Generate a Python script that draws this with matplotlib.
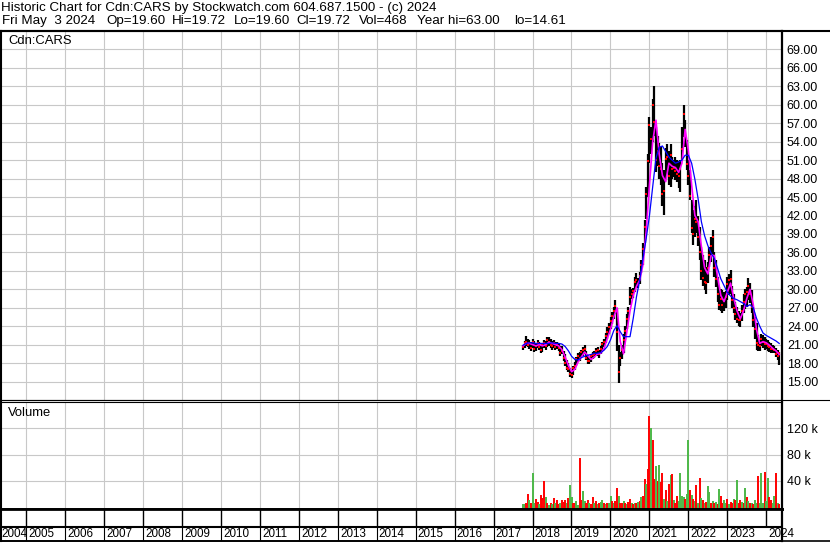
import numpy as np
import matplotlib.pyplot as plt
from matplotlib import transforms as mtransforms
from matplotlib.lines import Line2D

plt.rcParams['font.family'] = ['Liberation Sans', 'DejaVu Sans']
plt.rcParams['font.size'] = 9

W, H = 830, 543

title_line = 'Historic Chart for Cdn:CARS by Stockwatch.com 604.687.1500 - (c) 2024'
# quote line fields and their left edge in pixels
quote_fields = ['Fri May  3 2024', 'Op=19.60', 'Hi=19.72', 'Lo=19.60',
                'Cl=19.72', 'Vol=468', 'Year hi=63.00', 'lo=14.61']
quote_x = [2, 106, 172, 234, 296, 359, 417, 514]
symbol = 'Cdn:CARS'

# semi-monthly bars, first one in mid Sept 2017
start_year = 2017.755

price_hi = [
    21.0, 21.6, 22.4, 22.0, 21.8, 21.5, 21.9, 21.6, 21.2, 21.7,
    21.5, 21.0, 21.3, 21.8, 21.6, 22.2, 22.3, 21.9, 21.6, 21.8,
    21.4, 21.5, 21.2, 20.8,
    20.8, 20.0, 19.5, 18.5, 18.0, 17.2, 16.8, 17.5, 18.2, 19.0,
    19.6, 19.8, 20.2, 20.6, 20.9, 20.0, 19.3, 18.9, 19.5, 19.8,
    20.0, 20.4, 20.6, 20.2, 20.8, 21.5, 22.0, 22.9, 23.8, 24.6,
    25.5, 26.3, 27.2, 28.2, 27.0,
    21.0, 19.8, 21.0, 22.8, 24.0, 26.0, 27.2, 30.4, 30.0, 30.2,
    32.0, 32.6, 31.8, 32.8, 34.8, 37.5, 41.3, 46.7, 52.0, 58.0,
    56.4, 61.0, 63.1, 56.4, 55.0, 53.8, 53.2, 50.5, 49.4, 53.0,
    53.7, 52.5, 53.7, 51.5, 51.0, 51.5, 51.0, 50.8, 51.0, 56.4,
    60.0, 57.5, 54.3, 51.0, 49.4, 44.5, 42.9, 43.5, 44.5, 42.0,
    40.2, 36.9, 35.5, 34.8, 33.7, 34.5, 36.9, 38.5, 39.6, 36.0,
    34.8, 32.0, 30.4, 30.0, 29.9, 29.5, 29.8, 32.0, 32.5, 33.1,
    30.5, 29.3, 28.0, 27.2, 26.5, 26.1, 27.5, 29.3, 30.0, 30.4,
    31.8, 31.0, 29.9, 27.2, 25.5, 24.5, 22.5, 21.8, 22.8, 22.5,
    22.3, 22.0, 21.8, 21.5, 21.2, 21.0, 20.7, 20.4, 20.1, 19.8,
]
price_lo = [
    20.2, 20.5, 20.8, 20.6, 20.3, 20.0, 20.4, 19.8, 19.9, 20.5,
    20.2, 19.6, 19.8, 20.4, 20.1, 20.6, 20.8, 20.5, 20.2, 20.4,
    20.1, 20.3, 20.0, 19.2,
    19.5, 18.3, 17.5, 16.8, 16.5, 15.8, 15.6, 16.0, 16.8, 17.5,
    18.2, 18.4, 18.8, 19.2, 19.5, 18.5, 17.9, 17.8, 18.2, 18.6,
    18.8, 19.1, 19.2, 18.9, 19.5, 20.0, 20.6, 21.3, 22.0, 22.7,
    23.5, 24.4, 25.2, 26.0, 20.0,
    14.7, 17.5, 18.6, 19.6, 21.8, 23.5, 25.0, 27.5, 28.4, 28.6,
    29.5, 30.6, 30.2, 30.9, 32.6, 34.0, 37.5, 41.5, 45.0, 50.5,
    52.0, 54.0, 55.0, 49.0, 50.0, 48.0, 47.0, 43.5, 42.1, 48.0,
    49.2, 47.0, 46.7, 48.0, 48.3, 47.8, 47.5, 46.5, 45.9, 51.0,
    54.8, 53.2, 49.4, 47.0, 44.5, 39.1, 37.2, 38.5, 39.1, 37.0,
    34.8, 31.5, 30.5, 29.9, 29.3, 31.0, 33.7, 34.5, 35.8, 32.0,
    30.4, 28.0, 26.6, 26.5, 26.1, 26.5, 27.0, 28.3, 29.0, 29.3,
    27.0, 26.1, 25.0, 24.5, 24.0, 23.9, 24.8, 26.1, 26.8, 27.2,
    28.3, 27.8, 26.1, 23.9, 22.0, 20.1, 20.0, 19.9, 20.7, 20.5,
    20.1, 20.3, 20.0, 19.8, 19.6, 19.6, 19.6, 19.0, 18.5, 17.7,
]
price_close = [
    20.6, 21.2, 21.5, 21.0, 21.3, 20.5, 21.4, 20.3, 20.8, 21.2,
    20.6, 20.1, 20.9, 21.2, 20.7, 21.8, 21.4, 21.0, 20.8, 21.3,
    20.6, 20.9, 20.5, 19.6,
    20.0, 18.8, 18.0, 17.2, 17.0, 16.3, 16.0, 17.2, 17.5, 18.6,
    19.2, 18.9, 19.8, 20.1, 20.3, 18.8, 18.3, 18.4, 19.1, 19.3,
    19.5, 19.9, 20.1, 19.5, 20.3, 21.1, 21.4, 22.4, 23.1, 23.9,
    24.9, 25.6, 26.5, 27.3, 23.0,
    16.5, 18.9, 20.2, 21.8, 23.3, 25.2, 26.4, 28.8, 29.3, 29.8,
    31.2, 31.5, 30.8, 32.2, 33.9, 36.5, 40.2, 45.5, 50.8, 56.7,
    54.5, 60.0, 57.2, 51.0, 52.5, 50.1, 49.5, 45.5, 46.0, 51.2,
    51.5, 48.5, 51.8, 49.6, 49.8, 49.2, 48.8, 48.5, 49.5, 52.8,
    58.5, 55.0, 50.3, 48.5, 45.2, 40.0, 39.0, 41.5, 41.0, 38.5,
    36.0, 33.0, 31.8, 31.2, 31.0, 33.5, 35.5, 37.0, 38.5, 33.5,
    31.6, 29.2, 27.5, 28.5, 27.5, 28.2, 28.8, 30.8, 31.5, 31.6,
    28.2, 27.0, 26.0, 25.2, 25.0, 25.0, 26.4, 28.0, 29.2, 29.5,
    30.6, 29.2, 27.2, 25.0, 23.5, 21.2, 21.0, 20.8, 21.9, 21.4,
    21.1, 21.1, 20.7, 20.6, 20.3, 20.3, 20.1, 19.5, 19.2, 19.72,
]

# moving averages, one reading per month (every second bar)
ma_short = [
    20.8, 21.2, 21.2, 21.0, 20.8, 21.0, 20.8, 21.0, 21.4, 21.2,
    21.0, 20.8, 20.2, 19.0, 17.6, 16.6, 17.0, 18.2, 19.0, 19.8,
    19.2, 18.6, 19.0, 19.5, 19.6, 20.4, 22.0, 23.5, 25.5, 27.0,
    21.5, 19.5, 23.0, 26.5, 29.0, 30.5, 31.5, 34.0, 39.5, 47.0,
    54.0, 57.5, 52.0, 48.5, 47.5, 50.5, 50.0, 49.8, 49.0, 50.5,
    56.0, 52.5, 47.0, 42.0, 41.0, 37.0, 33.5, 32.5, 35.5, 35.5,
    32.0, 29.0, 28.0, 29.5, 31.0, 28.5, 26.5, 25.2, 26.5, 28.5,
    30.0, 27.5, 23.5, 21.2, 21.5, 21.3, 20.9, 20.4, 20.0, 19.4,
]
ma_long = [
    20.9, 21.2, 21.3, 21.3, 21.2, 21.2, 21.2, 21.2, 21.2, 21.3,
    21.2, 21.2, 21.1, 20.7, 20.0, 19.1, 18.6, 18.5, 18.9, 19.1,
    19.3, 19.4, 19.6, 19.6, 19.7, 20.1, 20.7, 21.8, 23.3, 24.1,
    23.1, 22.3, 22.3, 22.3, 25.3, 28.8, 31.5, 35.0, 38.3, 42.0,
    46.7, 51.3, 53.1, 53.3, 52.4, 51.5, 51.0, 50.5, 50.7, 51.0,
    51.8, 51.8, 50.5, 47.9, 44.7, 41.0, 38.7, 37.1, 35.9, 35.0,
    33.4, 31.7, 30.6, 29.5, 28.9, 28.5, 28.3, 28.0, 27.7, 27.2,
    27.5, 27.0, 25.3, 24.0, 22.9, 22.5, 22.2, 21.9, 21.6, 21.2,
]

# volume in thousands, g = up bar, r = down bar
volume_k = [
    3.5, 4, 6, 20, 10, 5, 51, 6, 12, 7,
    4, 18, 14, 39, 15, 5, 3, 6, 4, 13,
    5, 11, 4, 6, 10, 7, 11, 5, 13, 34,
    15, 6, 5, 8, 3, 74, 10, 24, 8, 5,
    10, 6, 4, 15, 5, 8, 4, 6, 7, 10,
    5, 4, 6, 5, 16, 8, 6, 9, 28, 17,
    6, 5, 8, 6, 4, 7, 12, 5, 4, 6,
    5, 7, 9, 15, 17, 43, 35, 58, 139, 120,
    103, 43, 62, 40, 64, 38, 52, 12, 26, 9,
    35, 48, 50, 10, 6, 16, 8, 51, 17, 15,
    12, 20, 102, 26, 18, 12, 8, 34, 6, 44,
    14, 10, 6, 7, 31, 22, 6, 8, 5, 7,
    4, 27, 17, 6, 10, 5, 12, 4, 7, 5,
    12, 11, 41, 6, 10, 7, 5, 28, 15, 8,
    5, 6, 4, 10, 6, 47, 5, 51, 6, 53,
    8, 44, 15, 10, 6, 17, 51, 5, 4,
]
volume_dir = ('ggrrgrggrr' 'grrrgrgrgr' 'grrgrrrgrg' 'grrggrrggr'
              'rgrrgrgrgg' 'rgrggrgrrg' 'rrgrgrrgrg' 'rgrgrrgrrg'
              'rrgrgrrgrg' 'rgrgrrgggg' 'rggrgrgrgr' 'grgrggrgrg'
              'rgrrggrgrr' 'grgrrgrgrg' 'rgrggrgggr' 'ggrrggrgr')

years = list(range(2004, 2025))
price_ticks = list(range(15, 70, 3))
volume_ticks = [40, 80, 120]

dates = start_year + np.arange(len(price_hi)) / 24.0
ma_dates = dates[::2]

x_left, x_right = 2004.345, 2024.41
grid_color = '#c8c8c8'


def box(x0, y0, x1, y1):
    # pixel box -> figure fraction rect
    return [x0 / W, 1 - y1 / H, (x1 - x0) / W, (y1 - y0) / H]


fig = plt.figure(figsize=(W / 100, H / 100), dpi=100)

# price panel
ax_p = fig.add_axes(box(1, 31, 782, 400))
ax_p.set_xlim(x_left, x_right)
ax_p.set_ylim(12, 72)
ax_p.set_xticks(years[1:])
ax_p.set_yticks(price_ticks)
ax_p.set_yticklabels(['%.2f' % v for v in price_ticks])
ax_p.yaxis.tick_right()
ax_p.tick_params(length=0, labelbottom=False, labelsize=9, pad=3.5)
ax_p.grid(True, color=grid_color, lw=0.8)
ax_p.set_axisbelow(True)

ax_p.vlines(dates, price_lo, price_hi, color='black', lw=1.6)
ax_p.plot(dates, price_close, ls='none', marker='s', ms=1.6, mew=0, color='red')
ax_p.plot(ma_dates, ma_short, color='#ff00ff', lw=1.2)
ax_p.plot(ma_dates, ma_long, color='#0000ff', lw=0.9)
ax_p.text(7 / 781, 1 - 10 / 369, symbol, transform=ax_p.transAxes,
          ha='left', va='center', fontsize=9.4)

# volume panel
v_bottom = -3.5
ax_v = fig.add_axes(box(1, 402, 782, 509))
ax_v.set_xlim(x_left, x_right)
ax_v.set_ylim(v_bottom, 160.5)
ax_v.set_xticks(years[1:])
ax_v.set_yticks(volume_ticks)
ax_v.set_yticklabels(['%d k' % v for v in volume_ticks])
ax_v.yaxis.tick_right()
ax_v.tick_params(length=0, labelbottom=False, labelsize=9, pad=3.5)
ax_v.grid(True, color=grid_color, lw=0.8)
ax_v.set_axisbelow(True)

bar_colors = ['#4cb848' if c == 'g' else '#ff0000' for c in volume_dir]
ax_v.vlines(dates, v_bottom, volume_k, colors=bar_colors, lw=1.4)
ax_v.text(7 / 781, 1 - 11 / 107, 'Volume', transform=ax_v.transAxes,
          ha='left', va='center', fontsize=9.4)

# date band
ax_d = fig.add_axes(box(1, 509, 782, 541))
ax_d.set_xlim(x_left, x_right)
ax_d.set_ylim(0, 1)
ax_d.set_xticks([])
ax_d.set_yticks([])
split = (541 - 526.5) / 32
ax_d.axhline(split, color='black', lw=1.5)
ax_d.vlines(years[1:], split, 1, color='black', lw=1)
ax_d.vlines(years[1:-1], 0, split, color='black', lw=0.8)
right_of = mtransforms.offset_copy(ax_d.transData, fig=fig, x=2, y=0, units='dots')
ax_d.text(0, 0.23, str(years[0]), transform=ax_d.transAxes,
          ha='left', va='center', fontsize=8.4)
for yr in years[1:]:
    ax_d.text(yr, 0.23, str(yr), transform=right_of,
              ha='left', va='center', fontsize=8.4, clip_on=False)

for ax in (ax_p, ax_v, ax_d):
    for side in ('left', 'right', 'top', 'bottom'):
        ax.spines[side].set_color('black')
    ax.spines['left'].set_linewidth(1.5)
    ax.spines['right'].set_linewidth(1.6)
ax_p.spines['top'].set_linewidth(1.5)
ax_p.spines['bottom'].set_linewidth(0.8)
ax_v.spines['top'].set_linewidth(0.8)
ax_v.spines['bottom'].set_linewidth(2)
ax_d.spines['top'].set_linewidth(2)
ax_d.spines['bottom'].set_linewidth(1.2)

# full-width rules of the frame
for ypix, lw in ((31, 1.5), (400, 0.8), (541, 1.2)):
    fig.add_artist(Line2D([0, 1], [1 - ypix / H] * 2, transform=fig.transFigure,
                          color='black', lw=lw))

fig.text(1 / W, 1 - 8 / H, title_line, ha='left', va='center', fontsize=9.6)
for field, xpix in zip(quote_fields, quote_x):
    fig.text(xpix / W, 1 - 21 / H, field, ha='left', va='center', fontsize=9.6)

fig.savefig('out.png', dpi=100)
